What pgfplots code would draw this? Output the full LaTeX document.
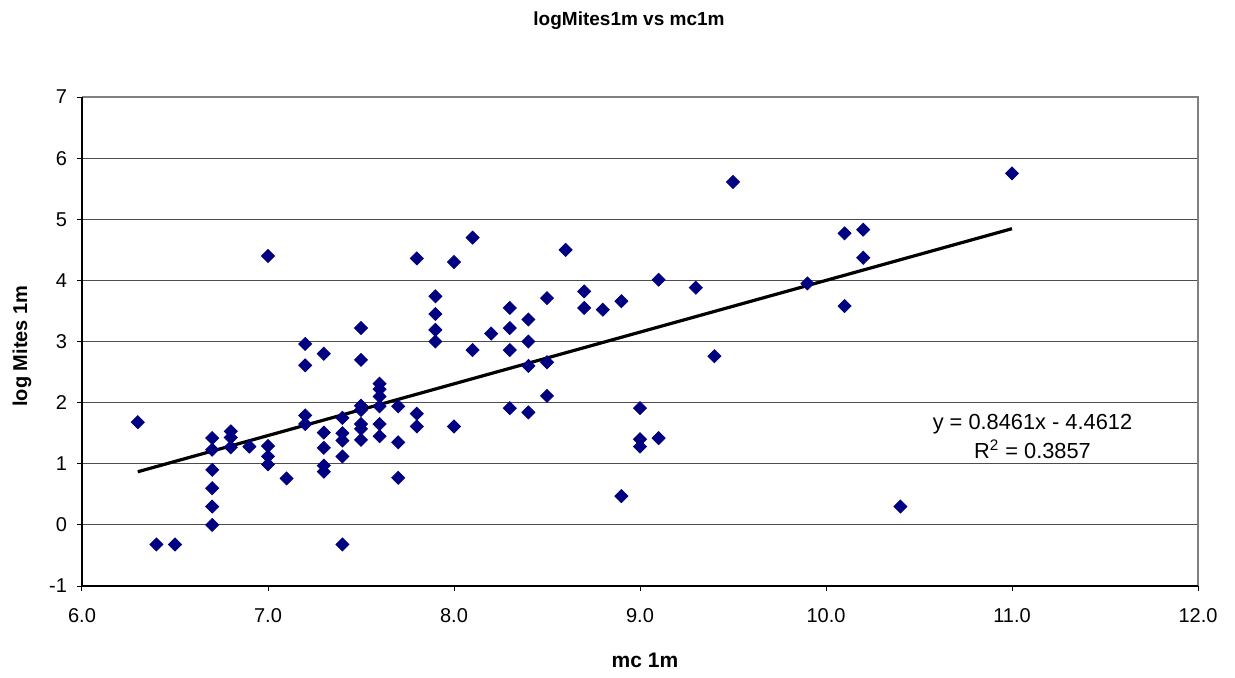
\documentclass[border=0pt]{standalone}
\usepackage{pgfplots}
\pgfplotsset{compat=1.18}
\usepackage{fontspec}
\setmainfont{Liberation Sans}
\definecolor{navy}{HTML}{000080}
\begin{document}
\begin{tikzpicture}
\useasboundingbox (-41pt,-45.5pt) rectangle (576.5pt,293pt);
\begin{axis}[
  at={(0pt,0pt)}, anchor=south west,
  scale only axis, width=558pt, height=244.5pt,
  xmin=6, xmax=12, ymin=-1, ymax=7,
  xtick={6,7,...,12}, ytick={-1,0,...,7},
  /pgf/number format/assume math mode=true,
  xticklabel style={/pgf/number format/.cd, fixed, fixed zerofill, precision=1, /tikz/.cd, yshift=-5pt},
  yticklabel style={xshift=-1.5pt},
  ticklabel style={font=\fontsize{10}{11}\selectfont},
  tick align=outside, major tick length=2.5pt,
  tick style={black, line width=0.5pt},
  axis line style={draw=none},
  ymajorgrids, grid style={black!70, line width=0.55pt},
  xtick pos=bottom, ytick pos=left,
  clip=false,
]
\draw[gray, line width=0.7pt] (axis cs:6,7) -- (axis cs:12,7) -- (axis cs:12,-1);
\draw[black, line width=0.7pt] (axis cs:6,7) -- (axis cs:6,-1) -- (axis cs:12,-1);
\addplot[only marks, mark=square*, mark size=2.3pt, mark options={rotate=45, fill=navy, draw=navy}] table {
x y
6.3 1.68
6.4 -0.32
6.5 -0.32
6.7 1.42
6.7 1.23
6.7 0.90
6.7 0.60
6.7 0.30
6.7 0.00
6.8 1.53
6.8 1.43
6.8 1.27
6.9 1.28
7.0 4.40
7.0 1.29
7.0 1.12
7.0 0.99
7.1 0.76
7.2 2.96
7.2 2.61
7.2 1.79
7.2 1.65
7.3 2.80
7.3 1.51
7.3 1.26
7.3 0.97
7.3 0.87
7.4 1.75
7.4 1.50
7.4 1.38
7.4 1.12
7.4 -0.32
7.5 3.22
7.5 2.70
7.5 1.95
7.5 1.88
7.5 1.65
7.5 1.57
7.5 1.39
7.6 2.31
7.6 2.22
7.6 2.10
7.6 1.94
7.6 1.65
7.6 1.45
7.7 1.94
7.7 1.35
7.7 0.77
7.8 4.36
7.8 1.82
7.8 1.61
7.9 3.74
7.9 3.45
7.9 3.19
7.9 3.00
8.0 4.30
8.0 1.61
8.1 4.70
8.1 2.86
8.2 3.13
8.3 3.55
8.3 3.22
8.3 2.86
8.3 1.91
8.4 3.36
8.4 3.00
8.4 2.60
8.4 1.84
8.5 3.71
8.5 2.66
8.5 2.11
8.6 4.50
8.7 3.82
8.7 3.55
8.8 3.52
8.9 3.66
8.9 0.47
9.0 1.91
9.0 1.40
9.0 1.28
9.1 4.01
9.1 1.42
9.3 3.88
9.4 2.76
9.5 5.61
9.9 3.95
10.1 4.77
10.1 3.58
10.2 4.83
10.2 4.37
10.4 0.30
11.0 5.75
};
\addplot[black, line width=1.6pt] coordinates {(6.3,0.8692) (11.0,4.8459)};
\node[font=\fontsize{10.9}{14.5}\selectfont, align=center] at (axis cs:11.11,1.45) {y = 0.8461x - 4.4612\\R\textsuperscript{2} = 0.3857};
\end{axis}
\node[font=\bfseries\fontsize{9.5}{11}\selectfont] at (273.5pt,282.5pt) {logMites1m vs mc1m};
\node[font=\bfseries\fontsize{10.5}{12}\selectfont] at (281.5pt,-37pt) {mc 1m};
\node[font=\bfseries\fontsize{10}{12}\selectfont, rotate=90] at (-30pt,120pt) {log Mites 1m};
\end{tikzpicture}
\end{document}
